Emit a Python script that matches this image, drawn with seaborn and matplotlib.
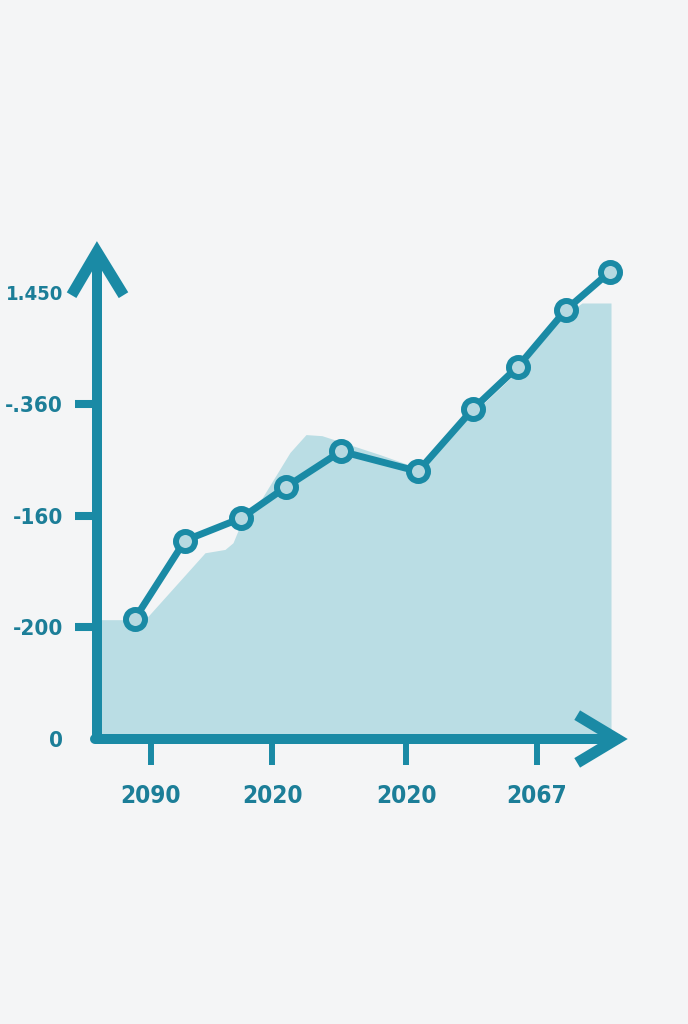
import matplotlib
matplotlib.use("Agg")
import matplotlib.pyplot as plt
import seaborn as sns

# ---- data ----
x_pos = [3.8, 8.8, 14.4, 18.9, 24.4, 32.1, 37.6, 42.1, 46.9, 51.3]
line_vals = [1.08, 1.78, 1.98, 2.26, 2.58, 2.40, 2.96, 3.34, 3.85, 4.19]

area_x = [0, 4.8, 10.8, 12.8, 13.6, 14.8, 16.5, 19.3, 20.9, 22.5, 28.3,
          32.1, 37.6, 42.1, 46.5, 48.5, 51.4]
area_vals = [1.07, 1.07, 1.67, 1.70, 1.76, 2.02, 2.16, 2.57, 2.73, 2.72,
             2.55, 2.43, 2.92, 3.30, 3.78, 3.91, 3.91]

x_ticks = [5.4, 17.5, 30.9, 44.0]
x_labels = ["2090", "2020", "2020", "2067"]
y_ticks = [0, 1, 2, 3, 4]
y_labels = ["0", "-200", "-160", "-.360", "1.450"]

# ---- style ----
BG = "#f4f5f6"
TEAL = "#1a8aa5"
TEXT = "#1c7e98"
FILL = "#badde4"
FACE = "#b6d9e1"

sns.set_theme(style="white")
plt.rcParams["font.family"] = ["DejaVu Sans"]
plt.rcParams["font.stretch"] = "condensed"

W, H = 688, 1024
fig = plt.figure(figsize=(W / 100, H / 100), dpi=100, facecolor=BG)
# axes corner at (97, 739) px, right end 627 px, top 242 px
ax = fig.add_axes([97 / W, (H - 739) / H, (627 - 97) / W, (739 - 242) / H])
ax.set_facecolor(BG)
ax.patch.set_alpha(0)

ax.fill_between(area_x, 0, area_vals, color=FILL, linewidth=0, zorder=1)

sns.lineplot(x=x_pos, y=line_vals, ax=ax, color=TEAL, linewidth=5,
             marker="o", markersize=13.7, markeredgewidth=4.3,
             markeredgecolor=TEAL, markerfacecolor=FACE, zorder=4)

ax.set_xlim(0, 53)
ax.set_ylim(0, 4.457)
for s in ax.spines.values():
    s.set_visible(False)

ax.set_xticks(x_ticks, x_labels)
ax.set_yticks(y_ticks, y_labels)
ax.tick_params(axis="x", length=18.7, width=4.3, color=TEAL, pad=13.5,
               labelsize=17.5, labelcolor=TEXT, bottom=True)
ax.tick_params(axis="y", length=15.8, width=5.8, color=TEAL, pad=8.6,
               labelsize=16, labelcolor=TEXT, left=True)
yt = ax.yaxis.get_major_ticks()
yt[0].tick1line.set_visible(False)
yt[4].tick1line.set_visible(False)
yt[4].label1.set_fontsize(14.5)
for lab in ax.get_xticklabels() + ax.get_yticklabels():
    lab.set_fontweight("bold")
    lab.set_fontstretch("condensed")

# axis lines with open arrow heads
tA = ax.transAxes
ax.plot([0, 0], [0, 0.98], transform=tA, clip_on=False, color=TEAL,
        lw=7.2, solid_capstyle="round", zorder=6)
ax.plot([-0.003, 0.981], [0, 0], transform=tA, clip_on=False, color=TEAL,
        lw=7.2, solid_capstyle="round", zorder=6)
ax.plot([-0.048, 0, 0.050], [0.893, 0.98, 0.893], transform=tA,
        clip_on=False, color=TEAL, lw=8, solid_capstyle="butt",
        solid_joinstyle="miter", zorder=6)
ax.plot([0.906, 0.981, 0.906], [0.048, 0, -0.048], transform=tA,
        clip_on=False, color=TEAL, lw=8, solid_capstyle="butt",
        solid_joinstyle="miter", zorder=6)

fig.savefig("out.png", dpi=100, facecolor=BG)
